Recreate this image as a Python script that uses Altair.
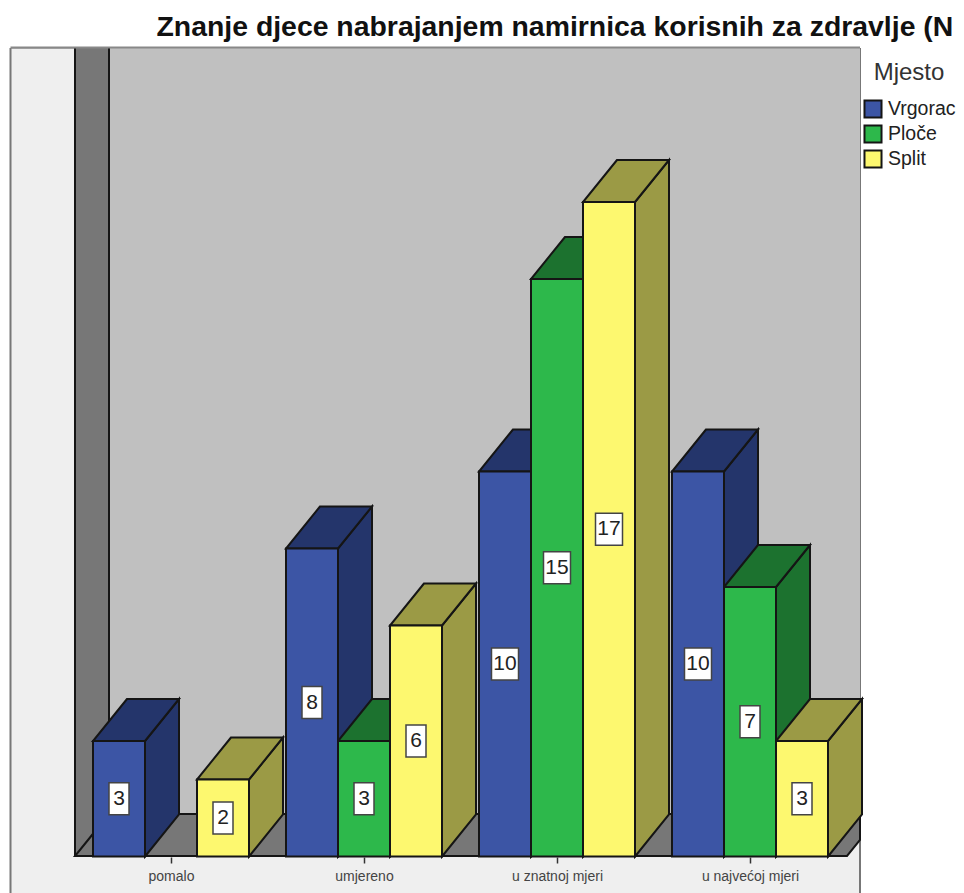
import altair as alt
import pandas as pd

# ---- data ----
CATEGORIES = ["pomalo", "umjereno", "u znatnoj mjeri", "u najvećoj mjeri"]
SERIES = ["Vrgorac", "Ploče", "Split"]
VRGORAC = [3, 8, 10, 10]
PLOCE = [0, 3, 15, 7]
SPLIT = [2, 6, 17, 3]
TITLE = "Znanje djece nabrajanjem namirnica korisnih za zdravlje (N"

# ---- styles ----
FRONT = ["#3C55A5", "#2DB84B", "#FDF86F"]
SHADE = ["#24356B", "#1C722F", "#9B9A45"]
INK = "#151515"
FONT = "Liberation Sans"

# ---- layout: image pixels -> scale units ----
W, H, TOP = 948, 845, 40
PX_GROUP, PX_UNIT, X_ZERO, Y_ZERO = 193.0, 38.5, 171.0, 856.5


def ux(px):
    return (px - X_ZERO) / PX_GROUP


def uy(px):
    return (Y_ZERO - px) / PX_UNIT


BAR = 52 / PX_GROUP
DX = 34 / PX_GROUP
DY = 42 / PX_UNIT

x_scale = alt.Scale(domain=[ux(8), ux(8 + W)], nice=False, zero=False)
y_scale = alt.Scale(domain=[uy(8 + TOP + H), uy(8 + TOP)], nice=False, zero=False)
x_axis = alt.Axis(
    values=list(range(len(CATEGORIES))),
    labelExpr="[" + ",".join(f"'{c}'" for c in CATEGORIES) + "][datum.value]",
    title=None, grid=False, domain=False, offset=-(8 + TOP + H - 857), zindex=1,
    tickSize=6, tickColor="#333333", tickWidth=1.5,
    labelFont=FONT, labelFontSize=14, labelColor="#444444", labelPadding=6,
)


def X(f="x"):
    return alt.X(f"{f}:Q", scale=x_scale, axis=x_axis)


def Y(f="y"):
    return alt.Y(f"{f}:Q", scale=y_scale, axis=None, stack=None)


# ---- bars ----
bars, sides, tops = [], [], []
for s, vals in enumerate([VRGORAC, PLOCE, SPLIT]):
    for i, v in enumerate(vals):
        if v == 0:
            continue
        x0 = i + (s - 1.5) * BAR
        key = f"{s}-{i}"
        digits = len(str(v))
        half_w = (20 if digits == 1 else 27) / 2 / PX_GROUP
        half_h = 16 / PX_UNIT
        xc = x0 + BAR / 2
        bars.append(dict(series=SERIES[s], x=x0, x2=x0 + BAR, y=0, y2=v, value=v,
                         xc=xc, yc=v / 2, bx=xc - half_w, bx2=xc + half_w,
                         by=v / 2 - half_h, by2=v / 2 + half_h))
        sides += [dict(bar=key, shade=SHADE[s], x=x0 + BAR, y=0, y2=v),
                  dict(bar=key, shade=SHADE[s], x=x0 + BAR + DX, y=DY, y2=v + DY)]
        tops += [dict(bar=key, shade=SHADE[s], y=v, x=x0, x2=x0 + BAR),
                 dict(bar=key, shade=SHADE[s], y=v + DY, x=x0 + DX, x2=x0 + BAR + DX)]
bars, sides, tops = map(pd.DataFrame, (bars, sides, tops))

# ---- chart frame ----
frame = pd.DataFrame([dict(x=ux(10.5), x2=ux(860), y=uy(47.5), y2=uy(905))])
back = pd.DataFrame([dict(x=ux(109), x2=ux(860), y=uy(48), y2=uy(814))])
wall = pd.DataFrame([dict(x=ux(75), y=uy(856), y2=uy(48)),
                     dict(x=ux(109), y=uy(814), y2=uy(48))])
floor = pd.DataFrame([dict(y=uy(856), x=ux(75), x2=ux(847)),
                      dict(y=uy(840), x=ux(88), x2=ux(860)),
                      dict(y=uy(814), x=ux(109), x2=ux(860))])
edges = pd.DataFrame([
    dict(e="a", x=ux(75), y=uy(48)), dict(e="a", x=ux(75), y=uy(856)),
    dict(e="b", x=ux(109), y=uy(48)), dict(e="b", x=ux(109), y=uy(814)),
])
topline = pd.DataFrame([dict(e="t", x=ux(10.5), y=uy(47.5)), dict(e="t", x=ux(860), y=uy(47.5))])

layers = [
    alt.Chart(frame).mark_rect(fill="#EFEFEF", stroke="#777777", strokeWidth=2, clip=True).encode(
        x=X(), x2="x2:Q", y=Y(), y2="y2:Q"),
    alt.Chart(back).mark_rect(fill="#C0C0C0").encode(x=X(), x2="x2:Q", y=Y(), y2="y2:Q"),
    alt.Chart(wall).mark_area(fill="#777777").encode(x=X(), y=Y(), y2="y2:Q"),
    alt.Chart(floor).mark_area(orient="horizontal", fill="#777777", stroke=INK, strokeWidth=2).encode(
        y=Y(), x=X(), x2="x2:Q"),
    alt.Chart(edges).mark_line(color=INK, strokeWidth=2).encode(x=X(), y=Y(), detail="e:N"),
    alt.Chart(topline).mark_line(color="#888888", strokeWidth=2).encode(x=X(), y=Y(), detail="e:N"),
    alt.Chart(sides).mark_area(stroke=INK, strokeWidth=2).encode(
        x=X(), y=Y(), y2="y2:Q", detail="bar:N", fill=alt.Fill("shade:N", scale=None)),
    alt.Chart(tops).mark_area(orient="horizontal", stroke=INK, strokeWidth=2).encode(
        y=Y(), x=X(), x2="x2:Q", detail="bar:N", fill=alt.Fill("shade:N", scale=None)),
    alt.Chart(bars).mark_rect(stroke=INK, strokeWidth=2).encode(
        x=X(), x2="x2:Q", y=Y(), y2="y2:Q",
        fill=alt.Fill("series:N", scale=alt.Scale(domain=SERIES, range=FRONT), sort=SERIES,
                      legend=alt.Legend(
                          title="Mjesto", orient="none", legendX=855, legendY=13,
                          titleFont=FONT, titleFontSize=24, titleFontWeight="normal",
                          titleColor="#333333", titlePadding=14, titleAnchor="middle",
                          labelFont=FONT, labelFontSize=19.5, labelColor="#222222",
                          labelOffset=5, rowPadding=-1,
                          symbolType="square", symbolSize=290, symbolStrokeColor="#333333",
                          symbolStrokeWidth=2, symbolOpacity=1))),
    alt.Chart(bars).mark_rect(fill="white", stroke="#444444", strokeWidth=1.5).encode(
        x=X("bx"), x2="bx2:Q", y=Y("by"), y2="by2:Q"),
    alt.Chart(bars).mark_text(font=FONT, fontSize=21, color="#222222", baseline="middle").encode(
        x=X("xc"), y=Y("yc"), text="value:Q"),
]

chart = alt.layer(*layers).properties(
    width=W, height=H,
    padding={"left": 0, "right": 0, "top": TOP, "bottom": 0},
    autosize=alt.AutoSizeParams(type="none"),
    title=alt.TitleParams(TITLE, font=FONT, fontSize=28.4, fontWeight="bold", color="#111111",
                          anchor="start", dx=150, offset=1.5, limit=900),
).configure_view(stroke=None)

chart.save("out.html", embed_options={"renderer": "svg", "actions": False})
